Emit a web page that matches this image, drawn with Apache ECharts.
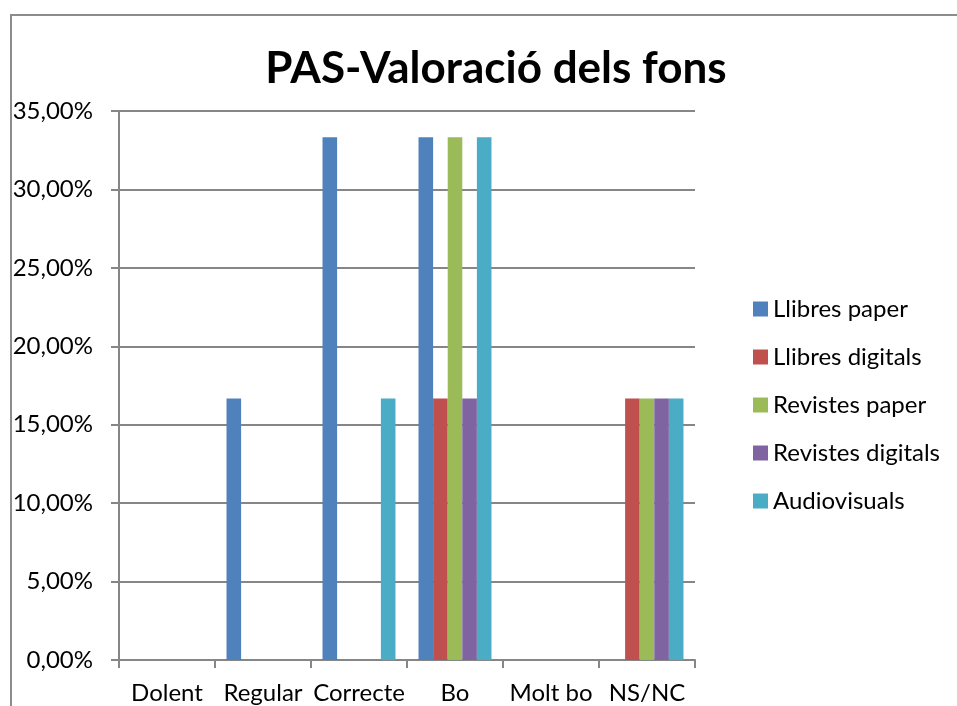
<!DOCTYPE html>
<html>
<head>
<meta charset="utf-8">
<script src="https://cdn.jsdelivr.net/npm/echarts@6/dist/echarts.min.js"></script>
<style>
  html, body { margin: 0; padding: 0; background: #fff; }
  #chart { width: 957px; height: 706px; }
</style>
</head>
<body>
<div id="chart"></div>
<script>
const categories = ['Dolent', 'Regular', 'Correcte', 'Bo', 'Molt bo', 'NS/NC'];
const seriesNames = ['Llibres paper', 'Llibres digitals', 'Revistes paper', 'Revistes digitals', 'Audiovisuals'];
const llibresPaper = [0, 16.67, 33.33, 33.33, 0, 0];
const llibresDigitals = [0, 0, 0, 16.67, 0, 16.67];
const revistesPaper = [0, 0, 0, 33.33, 0, 16.67];
const revistesDigitals = [0, 0, 0, 16.67, 0, 16.67];
const audiovisuals = [0, 0, 16.67, 33.33, 0, 16.67];
const colors = ['#4F81BD', '#C0504D', '#9BBB59', '#8064A2', '#4BACC6'];

const font = 'Lato, "Open Sans", sans-serif';
const allData = [llibresPaper, llibresDigitals, revistesPaper, revistesDigitals, audiovisuals];

const chart = echarts.init(document.getElementById('chart'));
chart.setOption({
  backgroundColor: '#fff',
  animation: false,
  color: colors,
  title: {
    text: 'PAS-Valoració dels fons',
    left: 491,
    top: 42,
    textAlign: 'center',
    textStyle: { fontFamily: font, fontSize: 44, fontWeight: 'bold', color: '#000' }
  },
  graphic: [{
    type: 'rect',
    shape: { x: 11, y: 15, width: 1000, height: 800 },
    style: { fill: null, stroke: '#8c8c8c', lineWidth: 2 },
    silent: true
  }],
  legend: {
    orient: 'vertical',
    left: 748,
    top: 292,
    itemWidth: 15,
    itemHeight: 15,
    itemGap: 24,
    icon: 'rect',
    data: seriesNames,
    textStyle: { fontFamily: font, fontSize: 24, color: '#000' }
  },
  grid: { left: 119, right: 262, top: 111, bottom: 46 },
  xAxis: {
    type: 'category',
    data: categories,
    axisLine: { lineStyle: { color: '#868686', width: 2 } },
    axisTick: { show: true, length: 8, lineStyle: { color: '#868686', width: 2 } },
    axisLabel: { fontFamily: font, fontSize: 24, color: '#000', margin: 21, interval: 0 }
  },
  yAxis: {
    type: 'value',
    min: 0,
    max: 35,
    interval: 5,
    axisLine: { show: true, lineStyle: { color: '#868686', width: 2 } },
    axisTick: { show: true, length: 8, lineStyle: { color: '#868686', width: 2 } },
    splitLine: { lineStyle: { color: '#868686', width: 2 } },
    axisLabel: {
      fontFamily: font, fontSize: 24, color: '#000', margin: 26,
      formatter: v => v.toFixed(2).replace('.', ',') + '%'
    }
  },
  series: seriesNames.map((name, i) => ({
    name: name,
    type: 'bar',
    data: allData[i],
    barGap: '0%',
    barCategoryGap: '24%',
    itemStyle: { color: colors[i] }
  }))
});
</script>
</body>
</html>
